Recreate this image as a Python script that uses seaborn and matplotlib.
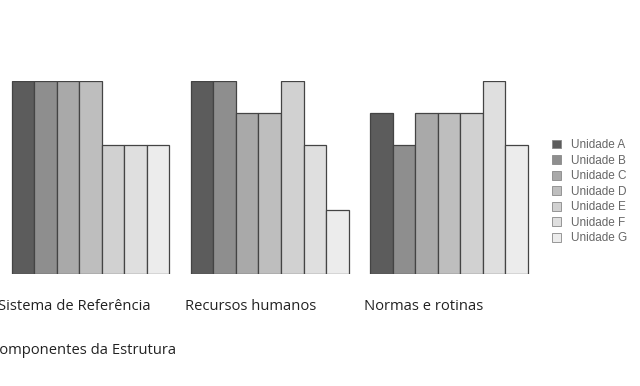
import pandas as pd
import matplotlib
matplotlib.use('Agg')
import matplotlib.pyplot as plt
import seaborn as sns
from matplotlib.patches import Patch

# dados
componentes = ['Sistema de Referência', 'Recursos humanos', 'Normas e rotinas']
unidades = ['Unidade A', 'Unidade B', 'Unidade C', 'Unidade D',
            'Unidade E', 'Unidade F', 'Unidade G']
sistema = [3, 3, 3, 3, 2, 2, 2]
recursos = [3, 3, 2.5, 2.5, 3, 2, 1]
normas = [2.5, 2, 2.5, 2.5, 2.5, 3, 2]

cores = ['#5c5c5c', '#8e8e8e', '#a9a9a9', '#bebebe', '#d1d1d1', '#dfdfdf', '#ececec']

linhas = []
for comp, valores in zip(componentes, [sistema, recursos, normas]):
    for u, v in zip(unidades, valores):
        linhas.append({'Componente': comp, 'Unidade': u, 'Valor': v})
df = pd.DataFrame(linhas)

sns.set_style('white')
plt.rcParams['font.family'] = ['Open Sans', 'DejaVu Sans']

fig = plt.figure(figsize=(6.4, 3.86), dpi=100)
ax = fig.add_axes([0.0014, 0.29, 0.8402, 0.5])

sns.barplot(data=df, x='Componente', y='Valor', hue='Unidade', palette=cores,
            width=0.88, edgecolor='#444444', linewidth=0.9, ax=ax, legend=False)

ax.set_xlim(-0.5, 2.5)
ax.set_ylim(0, 3)
ax.set_xticks([])
ax.set_yticks([])
ax.set_xlabel('')
ax.set_ylabel('')
for s in ax.spines.values():
    s.set_visible(False)

# rotulos das categorias, alinhados a esquerda do grupo
trans = ax.get_xaxis_transform()
deslocs = [-0.515, -0.475, -0.475]
for i, comp in enumerate(componentes):
    ax.text(i + deslocs[i], -0.17, comp, transform=trans, ha='left', va='center',
            fontsize=10.6, color='#222222')

fig.text(-0.016, 0.093, 'Componentes da Estrutura', ha='left', va='center',
         fontsize=10.6, color='#222222')

# legenda
handles = [Patch(facecolor=c, edgecolor='#888888', linewidth=0.6) for c in cores]
leg = fig.legend(handles, unidades, loc='center left', bbox_to_anchor=(0.853, 0.503),
                 frameon=False, handlelength=0.75, handleheight=0.75,
                 handletextpad=0.9, labelspacing=0.3, borderpad=0,
                 prop={'family': 'Liberation Sans', 'size': 8.5})
for t in leg.get_texts():
    t.set_color('#666666')

plt.savefig('out.png', dpi=100)
